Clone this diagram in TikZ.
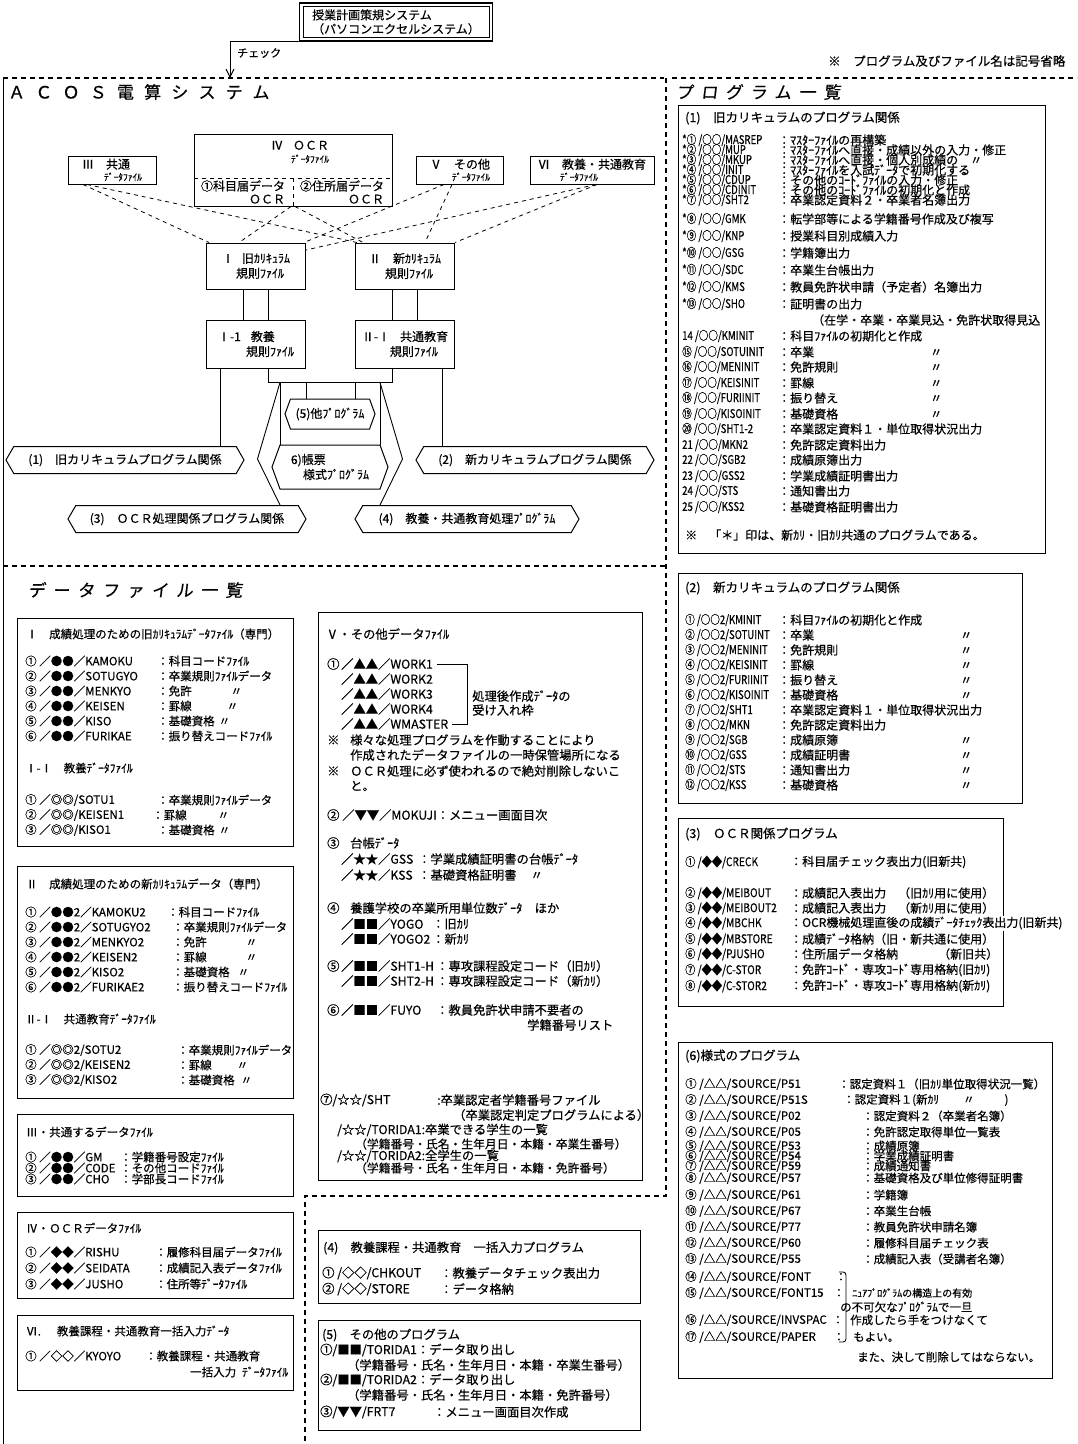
\documentclass[tikz,border=0pt]{standalone}
\usepackage{fontspec}
\usetikzlibrary{arrows.meta,shapes.symbols,calc}
\newfontfamily\jp[FakeBold=0.4]{Noto Sans CJK JP}
\newfontfamily\jphead[LetterSpace=60,FakeBold=0.4]{Noto Sans CJK JP}
\newfontfamily\jpslant[LetterSpace=45,FakeSlant=0.12,FakeBold=0.4]{Noto Sans CJK JP}
\newcommand{\fs}[2]{\fontsize{#1}{#2}\selectfont}
\newcommand{\cn}[2][0.7]{\scalebox{#1}[1]{#2}}
\begin{document}
\begin{tikzpicture}[x=1pt,y=-1pt,
  txt/.style={anchor=west,inner sep=0pt,font=\jp\fs{11.5}{13}},
  rtxt/.style={anchor=west,inner sep=0pt,font=\jp\fs{12}{14}},
  mtxt/.style={anchor=west,inner sep=0pt,font=\jp\fs{12.3}{14}},
  filebox/.style={draw,line width=1pt,inner sep=0pt,align=left,font=\jp\fs{12}{15}},
  hexa/.style={draw,line width=1pt,signal,signal to=west and east,signal pointer angle=120,minimum height=27,inner sep=2pt,align=left,font=\jp\fs{12}{15}},
  frame/.style={line width=1pt},
  dashframe/.style={line width=1.1pt,dash pattern=on 5pt off 4pt},
  link/.style={line width=0.9pt},
  dlink/.style={line width=0.8pt,dash pattern=on 4pt off 4pt}]
\fill[white] (0,0) rectangle (1077,1444);
\useasboundingbox (0,0) rectangle (1077,1444);

% header
\node[draw,line width=0.7pt,align=left,inner sep=3pt,minimum width=186,minimum height=30,font=\jp\fs{12}{14}] (plan) at (396,22) {授業計画策規システム\\（パソコンエクセルシステム）};
\draw[line width=1.2pt] ($(plan.south west)+(-3,3)$) rectangle ($(plan.north east)+(3,-3)$);
\coordinate (acos) at (230,78);
\draw[link,-{Straight Barb[length=8pt,width=8pt]}] ($(plan.south west)+(-3,3)$) -| (acos);
\node[txt,font=\jp\fs{11}{12}] (check) at (237,53) {チェック};
\node[txt,font=\jp\fs{12.5}{14}] (note) at (828,61) {※　プログラム及びファイル名は記号省略};

% frames
\draw[link] (3,78) -- (3,1444);
\draw[dashframe] (3,78) -- (664,78);
\draw[dashframe] (666,78) -- (666,1196) -- (305,1196) -- (305,1444);
\draw[dashframe] (672,78) -- (1077,78);
\draw[dashframe] (3,566) -- (666,566);
\node[anchor=west,inner sep=0pt,font=\jphead\fs{17}{17}] (acostitle) at (8,92) {ＡＣＯＳ電算システム};
\node[anchor=west,inner sep=0pt,font=\jpslant\fs{17}{17}] (progtitle) at (676,92) {プログラム一覧};
\node[anchor=west,inner sep=0pt,font=\jpslant\fs{17}{17}] (datatitle) at (28,590) {データファイル一覧};

% ACOS system
\node[filebox,minimum width=88,minimum height=28] (f3) at (112,170) {Ⅲ\hspace{12pt}共通\\[-3pt]\hspace{22pt}{\fs{9.5}{11}ﾃﾞｰﾀﾌｧｲﾙ}};
\node[filebox,minimum width=198,minimum height=72] (f4) at (293,170) {};
\draw[dlink] ($(f4.west)+(0,8)$) -- ($(f4.east)+(0,8)$);
\draw[dlink] ($(f4.center)+(0,8)$) -- (f4.south);
\node[align=left,inner sep=0pt,font=\jp\fs{12}{13}] (f4t) at (300,152) {Ⅳ\hspace{10pt}ＯＣＲ\\\hspace{20pt}{\fs{9.5}{11}ﾃﾞｰﾀﾌｧｲﾙ}};
\node[align=right,inner sep=0pt,font=\jp\fs{12}{13}] (f4l) at (243,192) {①科目届データ\\ＯＣＲ};
\node[align=right,inner sep=0pt,font=\jp\fs{12}{13}] (f4r) at (342,192) {②住所届データ\\ＯＣＲ};
\node[filebox,minimum width=87,minimum height=28] (f5) at (460,170) {Ⅴ\hspace{12pt}その他\\[-3pt]\hspace{22pt}{\fs{9.5}{11}ﾃﾞｰﾀﾌｧｲﾙ}};
\node[filebox,minimum width=124,minimum height=28] (f6) at (592,170) {Ⅵ\hspace{12pt}教養・共通教育\\[-3pt]\hspace{22pt}{\fs{9.5}{11}ﾃﾞｰﾀﾌｧｲﾙ}};
\node[filebox,minimum width=99,minimum height=46] (r1) at (256,266) {Ⅰ\hspace{8pt}旧ｶﾘｷｭﾗﾑ\\\hspace{14pt}規則ﾌｧｲﾙ};
\node[filebox,minimum width=99,minimum height=46] (r2) at (405,266) {Ⅱ\hspace{12pt}新ｶﾘｷｭﾗﾑ\\\hspace{16pt}規則ﾌｧｲﾙ};
\node[filebox,minimum width=99,minimum height=48] (r1a) at (256,344) {Ⅰ-1\hspace{10pt}教養\\\hspace{28pt}規則ﾌｧｲﾙ};
\node[filebox,minimum width=99,minimum height=48] (r2a) at (405,344) {Ⅱ-Ⅰ\hspace{10pt}共通教育\\\hspace{28pt}規則ﾌｧｲﾙ};

\draw[dlink] ($(f3.south)+(-29,0)$) -- ($(r1.north)+(-47,0)$);
\draw[dlink] ($(f3.south)+(-25,0)$) -- ($(r2.north)+(-48,0)$);
\draw[dlink] ($(f4.south)+(-2,0)$) -- ($(r1.north)+(-17,0)$);
\draw[dlink] ($(f4.south)+(2,0)$) -- ($(r2.north)+(-42,0)$);
\draw[dlink] ($(f5.south)+(-16,0)$) -- ($(r1.north)+(48,0)$);
\draw[dlink] ($(f5.south)+(-8,0)$) -- ($(r2.north)+(20,0)$);
\draw[dlink] ($(f6.south)+(4,0)$) -- ($(r1.east)+(0,-16)$);
\draw[dlink] ($(f6.south)+(5,0)$) -- (r2.north east);

\draw[link] ($(r1.south)+(-13,0)$) -- ($(r1a.north)+(-13,0)$);
\draw[link] ($(r1.south)+(12,0)$) -- ($(r1a.north)+(12,0)$);
\draw[link] ($(r2.south)+(-13,0)$) -- ($(r2a.north)+(-13,0)$);
\draw[link] ($(r2.south)+(12,0)$) -- ($(r2a.north)+(12,0)$);

\node[hexa,minimum width=238] (h1) at (125,460) {(1)　旧カリキュラムプログラム関係};
\node[hexa,minimum width=238] (h2) at (535,460) {(2)　新カリキュラムプログラム関係};
\node[hexa,minimum width=90,minimum height=30,signal pointer angle=140] (h5) at (330,414) {(5)他ﾌﾟﾛｸﾞﾗﾑ};
\node[hexa,minimum width=116,minimum height=44,signal pointer angle=140] (h6) at (330,467) {6)帳票\\\hspace{12pt}様式ﾌﾟﾛｸﾞﾗﾑ};
\node[hexa,minimum width=238] (h3) at (187,519) {(3)　ＯＣＲ処理関係プログラム関係};
\node[hexa,minimum width=224] (h4) at (467,519) {(4)　教養・共通教育処理ﾌﾟﾛｸﾞﾗﾑ};

\coordinate (c1) at ($(r1a.south)+(-36,0)$);
\coordinate (c2) at ($(r2a.south)+(37,0)$);
\draw[link] (c1) -- (c1 |- h1.north);
\draw[link] (c2) -- (c2 |- h2.north);
\coordinate (bl) at ($(r1a.south)+(12,14)$);
\coordinate (br) at ($(r2a.south)+(-13,14)$);
\draw[link] ($(r1a.south)+(12,0)$) -- (bl) -- (br) -- ($(r2a.south)+(-13,0)$);
\coordinate (b5l) at ($(bl)+(38,0)$);
\coordinate (b5r) at ($(br)+(-37,0)$);
\draw[link] (b5l) -- (b5l |- h5.north);
\draw[link] (b5r) -- (b5r |- h5.north);
\coordinate (b6l) at ($(bl)+(12,0)$);
\coordinate (b6r) at ($(br)+(-12,0)$);
\draw[link] (b6l) -- (b6l |- h6.north);
\draw[link] (b6r) -- (b6r |- h6.north);
\draw[link] (b6l) -- ($(h6.west)+(-14,-8)$) -- (b6l |- h3.north);
\draw[link] (b6r) -- ($(h6.east)+(14,-8)$) -- (b6r |- h4.north);

% program list (1)
\draw[frame] (678,105) rectangle (1045,553);
\node[rtxt,font=\jp\fs{12.5}{14}] (p1t) at (685,118) {(1)　旧カリキュラムのプログラム関係};
\foreach \y/\code/\desc in {
  140/{*① /○○/MASREP}/{：ﾏｽﾀｰﾌｧｲﾙの再構築},
  150/{*② /○○/MUP}/{：ﾏｽﾀｰﾌｧｲﾙへ直接・成績以外の入力・修正},
  160/{*③ /○○/MKUP}/{：ﾏｽﾀｰﾌｧｲﾙへ直接・個人別成績の\quad 〃},
  170/{*④ /○○/INIT}/{：ﾏｽﾀｰﾌｧｲﾙを入試ﾃﾞｰﾀで初期化する},
  180/{*⑤ /○○/CDUP}/{：その他のｺｰﾄﾞﾌｧｲﾙの入力・修正},
  190/{*⑥ /○○/CDINIT}/{：その他のｺｰﾄﾞﾌｧｲﾙの初期化と作成},
  200/{*⑦ /○○/SHT2}/{：卒業認定資料２・卒業者名簿出力},
  219/{*⑧ /○○/GMK}/{：転学部等による学籍番号作成及び複写},
  236/{*⑨ /○○/KNP}/{：授業科目別成績入力},
  253/{*⑩ /○○/GSG}/{：学籍簿出力},
  270/{*⑪ /○○/SDC}/{：卒業生台帳出力},
  287/{*⑫ /○○/KMS}/{：教員免許状申請（予定者）名簿出力},
  304/{*⑬ /○○/SHO}/{：証明書の出力},
  336/{14 /○○/KMINIT}/{：科目ﾌｧｲﾙの初期化と作成},
  352/{⑮ /○○/SOTUINIT}/{：\makebox[140pt][l]{卒業}〃},
  367/{⑯ /○○/MENINIT}/{：\makebox[140pt][l]{免許規則}〃},
  383/{⑰ /○○/KEISINIT}/{：\makebox[140pt][l]{罫線}〃},
  398/{⑱ /○○/FURIINIT}/{：\makebox[140pt][l]{振り替え}〃},
  414/{⑲ /○○/KISOINIT}/{：\makebox[140pt][l]{基礎資格}〃},
  429/{⑳ /○○/SHT1-2}/{：卒業認定資料１・単位取得状況出力},
  445/{21 /○○/MKN2}/{：免許認定資料出力},
  460/{22 /○○/SGB2}/{：成績原簿出力},
  476/{23 /○○/GSS2}/{：学業成績証明書出力},
  491/{24 /○○/STS}/{：通知書出力},
  507/{25 /○○/KSS2}/{：基礎資格証明書出力}}
{
  \node[rtxt] (p1c\y) at (682,\y) {\cn[0.8]{\code}};
  \node[rtxt] (p1d\y) at (778,\y) {\desc};
}
\node[rtxt] (p1x) at (812,320) {（在学・卒業・卒業見込・免許状取得見込};
\node[rtxt] (p1n) at (685,535) {※　「＊」印は、新ｶﾘ・旧ｶﾘ共通のプログラムである。};

% program list (2)
\draw[frame] (678,573) rectangle (1022,803);
\node[rtxt,font=\jp\fs{12.5}{14}] (p2t) at (685,588) {(2)　新カリキュラムのプログラム関係};
\foreach \y/\code/\desc in {
  620/{① /○○2/KMINIT}/{：科目ﾌｧｲﾙの初期化と作成},
  635/{② /○○2/SOTUINT}/{：\makebox[170pt][l]{卒業}〃},
  650/{③ /○○2/MENINIT}/{：\makebox[170pt][l]{免許規則}〃},
  665/{④ /○○2/KEISINIT}/{：\makebox[170pt][l]{罫線}〃},
  680/{⑤ /○○2/FURIINIT}/{：\makebox[170pt][l]{振り替え}〃},
  695/{⑥ /○○2/KISOINIT}/{：\makebox[170pt][l]{基礎資格}〃},
  710/{⑦ /○○2/SHT1}/{：卒業認定資料１・単位取得状況出力},
  725/{⑧ /○○2/MKN}/{：免許認定資料出力},
  740/{⑨ /○○2/SGB}/{：\makebox[170pt][l]{成績原簿}〃},
  755/{⑩ /○○2/GSS}/{：\makebox[170pt][l]{成績証明書}〃},
  770/{⑪ /○○2/STS}/{：\makebox[170pt][l]{通知書出力}〃},
  785/{⑫ /○○2/KSS}/{：\makebox[170pt][l]{基礎資格}〃}}
{
  \node[rtxt] (p2c\y) at (685,\y) {\cn[0.8]{\code}};
  \node[rtxt] (p2d\y) at (778,\y) {\desc};
}

% program list (3)
\draw[frame] (1003,916) -- (1003,818) -- (678,818) -- (678,1006) -- (1003,1006) -- (1003,931);
\node[rtxt,font=\jp\fs{12.5}{14}] (p3t) at (685,834) {(3)　ＯＣＲ関係プログラム};
\foreach \y/\code/\desc in {
  862/{① /◆◆/CRECK}/{：科目届チェック表出力(旧新共)},
  893/{② /◆◆/MEIBOUT}/{：成績記入表出力　（旧ｶﾘ用に使用）},
  908/{③ /◆◆/MEIBOUT2}/{：成績記入表出力　（新ｶﾘ用に使用）},
  923/{④ /◆◆/MBCHK}/{：OCR機械処理直後の成績ﾃﾞｰﾀﾁｪｯｸ表出力(旧新共)},
  939/{⑤ /◆◆/MBSTORE}/{：成績ﾃﾞｰﾀ格納（旧・新共通に使用）},
  954/{⑥ /◆◆/PJUSHO}/{：住所届データ格納\hspace{40pt}（新旧共）},
  970/{⑦ /◆◆/C-STOR}/{：免許ｺｰﾄﾞ・専攻ｺｰﾄﾞ専用格納(旧ｶﾘ)},
  986/{⑧ /◆◆/C-STOR2}/{：免許ｺｰﾄﾞ・専攻ｺｰﾄﾞ専用格納(新ｶﾘ)}}
{
  \node[rtxt] (p3c\y) at (685,\y) {\cn[0.85]{\code}};
  \node[rtxt] (p3d\y) at (790,\y) {\desc};
}

% program list (6)
\draw[frame] (678,1042) rectangle (1052,1378);
\node[rtxt,font=\jp\fs{12.5}{14}] (p6t) at (685,1056) {(6)様式のプログラム};
\foreach \y/\code/\cx/\desc in {
  1084/{① /△△/SOURCE/P51}/838/{：認定資料１（旧ｶﾘ単位取得状況一覧）},
  1100/{② /△△/SOURCE/P51S}/843/{：認定資料１(新ｶﾘ\hspace{24pt}〃\hspace{30pt})},
  1116/{③ /△△/SOURCE/P02}/862/{：認定資料２（卒業者名簿）},
  1132/{④ /△△/SOURCE/P05}/862/{：免許認定取得単位一覧表},
  1146/{⑤ /△△/SOURCE/P53}/862/{：成績原簿},
  1156/{⑥ /△△/SOURCE/P54}/862/{：学業成績証明書},
  1166/{⑦ /△△/SOURCE/P59}/862/{：成績通知書},
  1178/{⑧ /△△/SOURCE/P57}/862/{：基礎資格及び単位修得証明書},
  1195/{⑨ /△△/SOURCE/P61}/862/{：学籍簿},
  1211/{⑩ /△△/SOURCE/P67}/862/{：卒業生台帳},
  1227/{⑪ /△△/SOURCE/P77}/862/{：教員免許状申請名簿},
  1243/{⑫ /△△/SOURCE/P60}/862/{：履修科目届チェック表},
  1259/{⑬ /△△/SOURCE/P55}/862/{：成績記入表（受講者名簿）},
  1277/{⑭ /△△/SOURCE/FONT}/835/{：},
  1293/{⑮ /△△/SOURCE/FONT15}/833/{：},
  1320/{⑯ /△△/SOURCE/INVSPAC}/832/{：},
  1337/{⑰ /△△/SOURCE/PAPER}/833/{：}}
{
  \node[txt] (p6c\y) at (685,\y) {\code};
  \node[txt] (p6d\y) at (\cx,\y) {\desc};
}
\draw[link,rounded corners=3pt] (839,1272) -| (846,1342) -- (839,1342);
\node[txt,font=\jp\fs{10}{12}] (p6a) at (852,1293) {ﾆｭｱﾌﾟﾛｸﾞﾗﾑの構造上の有効};
\node[txt] (p6b) at (840,1307) {の不可欠なﾌﾟﾛｸﾞﾗﾑで一旦};
\node[txt] (p6e) at (850,1320) {作成したら手をつけなくて};
\node[txt] (p6f) at (853,1337) {もよい。};
\node[txt] (p6g) at (857,1357) {また、決して削除してはならない。};

% data file I
\draw[frame] (17,618) rectangle (293,846);
\node[txt] (d1t) at (26,634) {Ⅰ　成績処理のための旧ｶﾘｷｭﾗﾑﾃﾞｰﾀﾌｧｲﾙ（専門）};
\node[txt] (d1s) at (25,768) {Ⅰ-Ⅰ　教養ﾃﾞｰﾀﾌｧｲﾙ};
\foreach \y/\code/\cx/\desc in {
  661/{① ／●●／KAMOKU}/157/{：科目コードﾌｧｲﾙ},
  676/{② ／●●／SOTUGYO}/157/{：卒業規則ﾌｧｲﾙデータ},
  691/{③ ／●●／MENKYO}/157/{：\makebox[62pt][l]{免許}〃},
  706/{④ ／●●／KEISEN}/157/{：\makebox[58pt][l]{罫線}〃},
  721/{⑤ ／●●／KISO}/157/{：\makebox[50pt][l]{基礎資格}〃},
  736/{⑥ ／●●／FURIKAE}/157/{：振り替えコードﾌｧｲﾙ},
  800/{① ／◎◎/SOTU1}/157/{：卒業規則ﾌｧｲﾙデータ},
  815/{② ／◎◎/KEISEN1}/152/{：\makebox[54pt][l]{罫線}〃},
  830/{③ ／◎◎/KISO1}/157/{：\makebox[50pt][l]{基礎資格}〃}}
{
  \node[txt] (d1c\y) at (25,\y) {\code};
  \node[txt] (d1d\y) at (\cx,\y) {\desc};
}

% data file II
\draw[frame] (17,866) rectangle (293,1098);
\node[txt] (d2t) at (26,884) {Ⅱ　成績処理のための新ｶﾘｷｭﾗﾑデータ（専門）};
\node[txt] (d2s) at (25,1019) {Ⅱ-Ⅰ　共通教育ﾃﾞｰﾀﾌｧｲﾙ};
\foreach \y/\code/\cx/\desc in {
  912/{① ／●●2／KAMOKU2}/167/{：科目コードﾌｧｲﾙ},
  927/{② ／●●2／SOTUGYO2}/172/{：卒業規則ﾌｧｲﾙデータ},
  942/{③ ／●●2／MENKYO2}/172/{：\makebox[62pt][l]{免許}〃},
  957/{④ ／●●2／KEISEN2}/172/{：\makebox[62pt][l]{罫線}〃},
  972/{⑤ ／●●2／KISO2}/172/{：\makebox[54pt][l]{基礎資格}〃},
  987/{⑥ ／●●2／FURIKAE2}/172/{：振り替えコードﾌｧｲﾙ},
  1050/{① ／◎◎2/SOTU2}/177/{：卒業規則ﾌｧｲﾙデータ},
  1065/{② ／◎◎2/KEISEN2}/177/{：\makebox[48pt][l]{罫線}〃},
  1080/{③ ／◎◎2/KISO2}/177/{：\makebox[52pt][l]{基礎資格}〃}}
{
  \node[txt] (d2c\y) at (25,\y) {\code};
  \node[txt] (d2d\y) at (\cx,\y) {\desc};
}

% data file III, IV, VI
\draw[frame] (17,1114) rectangle (293,1196);
\node[txt] (d3t) at (26,1132) {Ⅲ・共通するデータﾌｧｲﾙ};
\foreach \y/\code/\desc in {
  1157/{① ／●●／GM}/{：学籍番号設定ﾌｧｲﾙ},
  1168/{② ／●●／CODE}/{：その他コードﾌｧｲﾙ},
  1179/{③ ／●●／CHO}/{：学部長コードﾌｧｲﾙ}}
{
  \node[txt] (d3c\y) at (25,\y) {\code};
  \node[txt] (d3d\y) at (120,\y) {\desc};
}
\draw[frame] (17,1212) rectangle (293,1298);
\node[txt] (d4t) at (26,1228) {Ⅳ・ＯＣＲデータﾌｧｲﾙ};
\foreach \y/\code/\desc in {
  1252/{① ／◆◆／RISHU}/{：履修科目届データﾌｧｲﾙ},
  1268/{② ／◆◆／SEIDATA}/{：成績記入表データﾌｧｲﾙ},
  1284/{③ ／◆◆／JUSHO}/{：住所等ﾃﾞｰﾀﾌｧｲﾙ}}
{
  \node[txt] (d4c\y) at (25,\y) {\code};
  \node[txt] (d4d\y) at (155,\y) {\desc};
}
\draw[frame] (17,1315) rectangle (293,1390);
\node[txt] (d6t) at (26,1331) {Ⅵ.\hspace{16pt}教養課程・共通教育一括入力ﾃﾞｰﾀ};
\node[txt] (d6c) at (25,1356) {① ／◇◇／KYOYO};
\node[txt] (d6d) at (145,1356) {：教養課程・共通教育};
\node[txt] (d6e) at (190,1372) {一括入力\hspace{6pt}ﾃﾞｰﾀﾌｧｲﾙ};

% data file V
\draw[frame] (318,612) rectangle (642,1180);
\node[mtxt] (d5t) at (326,634) {Ⅴ・その他データﾌｧｲﾙ};
\node[mtxt] (v1) at (327,664) {①};
\foreach \i/\y in {1/664,2/679,3/694,4/709}
  \node[mtxt] (w\i) at (341,\y) {／▲▲／WORK\i};
\node[mtxt] (w5) at (341,724) {／▲▲／WMASTER};
\coordinate (wbar) at (467,0);
\draw[link] ($(w1.east)+(4,0)$) -- (w1 -| wbar) -- (w5 -| wbar) -- ($(w5.east)+(4,0)$);
\node[mtxt,align=left] (wnote) at (472,703) {処理後作成ﾃﾞｰﾀの\\受け入れ枠};
\node[mtxt] (v2) at (327,740) {※};
\node[mtxt] (v3) at (350,740) {様々な処理プログラムを作動することにより};
\node[mtxt] (v4) at (350,755) {作成されたデータファイルの一時保管場所になる};
\node[mtxt] (v5) at (327,771) {※};
\node[mtxt] (v6) at (350,771) {ＯＣＲ処理に必ず使われるので絶対削除しないこ};
\node[mtxt] (v7) at (350,786) {と。};
\node[mtxt] (v8) at (327,815) {② ／▼▼／MOKUJI：メニュー画面目次};
\node[mtxt] (v9) at (327,843) {③};
\node[mtxt] (v10) at (350,843) {台帳ﾃﾞｰﾀ};
\foreach \y/\code/\cx/\desc in {
  859/{／★★／GSS}/418/{：学業成績証明書の台帳ﾃﾞｰﾀ},
  875/{／★★／KSS}/418/{：基礎資格証明書\hspace{14pt}〃},
  924/{／■■／YOGO}/432/{：旧ｶﾘ},
  939/{／■■／YOGO2}/432/{：新ｶﾘ},
  966/{／■■／SHT1-H}/436/{：専攻課程設定コード（旧ｶﾘ）},
  981/{／■■／SHT2-H}/436/{：専攻課程設定コード（新ｶﾘ）},
  1010/{／■■／FUYO}/436/{：教員免許状申請不要者の}}
{
  \node[mtxt] (vc\y) at (341,\y) {\code};
  \node[mtxt] (vd\y) at (\cx,\y) {\desc};
}
\node[mtxt] (v11) at (327,908) {④};
\node[mtxt] (v12) at (350,908) {養護学校の卒業所用単位数ﾃﾞｰﾀ　ほか};
\node[mtxt] (v13) at (327,966) {⑤};
\node[mtxt] (v14) at (327,1010) {⑥};
\node[mtxt] (v15) at (527,1025) {学籍番号リスト};
\node[mtxt] (v16) at (320,1100) {⑦/☆☆/SHT};
\node[mtxt] (v17) at (437,1100) {:卒業認定者学籍番号ファイル};
\node[mtxt] (v18) at (453,1115) {（卒業認定判定プログラムによる）};
\node[mtxt] (v19) at (337,1130) {/☆☆/TORIDA1:卒業できる学生の一覧};
\node[mtxt,font=\jp\fs{11.8}{13}] (v20) at (355,1144) {（学籍番号・氏名・生年月日・本籍・卒業生番号）};
\node[mtxt] (v21) at (337,1156) {/☆☆/TORIDA2:全学生の一覧};
\node[mtxt,font=\jp\fs{11.8}{13}] (v22) at (355,1168) {（学籍番号・氏名・生年月日・本籍・免許番号）};

% program lists (4), (5)
\draw[frame] (318,1230) rectangle (640,1303);
\node[mtxt] (p4t) at (323,1248) {(4)　教養課程・共通教育　一括入力プログラム};
\node[mtxt] (p4a) at (322,1273) {① /◇◇/CHKOUT};
\node[mtxt] (p4b) at (440,1273) {：教養データチェック表出力};
\node[mtxt] (p4c) at (322,1289) {② /◇◇/STORE};
\node[mtxt] (p4d) at (440,1289) {：データ格納};
\draw[frame] (318,1320) rectangle (640,1430);
\node[mtxt] (p5t) at (322,1335) {(5)　その他のプログラム};
\node[mtxt] (p5a) at (320,1350) {①/■■/TORIDA1：データ取り出し};
\node[mtxt] (p5b) at (347,1365) {（学籍番号・氏名・生年月日・本籍・卒業生番号）};
\node[mtxt] (p5c) at (320,1380) {②/■■/TORIDA2：データ取り出し};
\node[mtxt] (p5d) at (347,1395) {（学籍番号・氏名・生年月日・本籍・免許番号）};
\node[mtxt] (p5e) at (320,1412) {③/▼▼/FRT7};
\node[mtxt] (p5f) at (433,1412) {：メニュー画面目次作成};
\end{tikzpicture}
\end{document}
